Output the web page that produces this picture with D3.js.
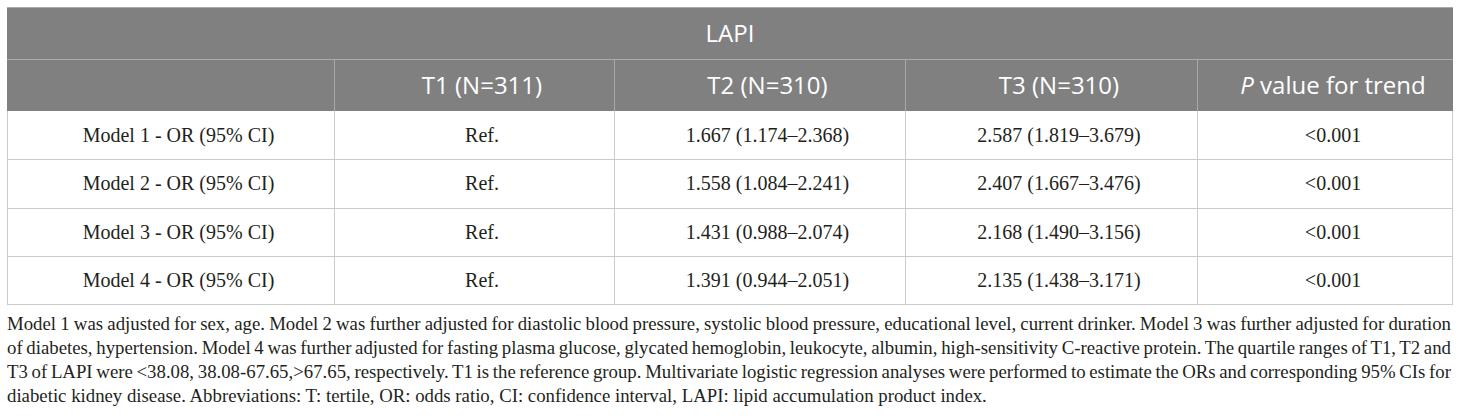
<!DOCTYPE html>
<html>
<head>
<meta charset="utf-8">
<script src="https://cdn.jsdelivr.net/npm/d3@7"></script>
<style>
  html, body { margin: 0; padding: 0; background: #fff; }
  svg { display: block; }
</style>
</head>
<body>
<svg id="chart" width="1460" height="416"></svg>
<script>
// ---------- data ----------
const groupTitle = "LAPI";
const columnHeaders = ["", "T1 (N=311)", "T2 (N=310)", "T3 (N=310)", "P value for trend"];
const rowLabels = ["Model 1 - OR (95% CI)", "Model 2 - OR (95% CI)", "Model 3 - OR (95% CI)", "Model 4 - OR (95% CI)"];
const t1Values = ["Ref.", "Ref.", "Ref.", "Ref."];
const t2Values = ["1.667 (1.174\u20132.368)", "1.558 (1.084\u20132.241)", "1.431 (0.988\u20132.074)", "1.391 (0.944\u20132.051)"];
const t3Values = ["2.587 (1.819\u20133.679)", "2.407 (1.667\u20133.476)", "2.168 (1.490\u20133.156)", "2.135 (1.438\u20133.171)"];
const pValues = ["<0.001", "<0.001", "<0.001", "<0.001"];
const footnoteLines = [
  "Model 1 was adjusted for sex, age. Model 2 was further adjusted for diastolic blood pressure, systolic blood pressure, educational level, current drinker. Model 3 was further adjusted for duration",
  "of diabetes, hypertension. Model 4 was further adjusted for fasting plasma glucose, glycated hemoglobin, leukocyte, albumin, high-sensitivity C-reactive protein. The quartile ranges of T1, T2 and",
  "T3 of LAPI were <38.08, 38.08-67.65,>67.65, respectively. T1 is the reference group. Multivariate logistic regression analyses were performed to estimate the ORs and corresponding 95% CIs for",
  "diabetic kidney disease. Abbreviations: T: tertile, OR: odds ratio, CI: confidence interval, LAPI: lipid accumulation product index."
];

// ---------- layout ----------
const svg = d3.select("#chart");
const left = 7, right = 1453;
const colWeights = [327, 280, 291, 292, 256];
const cum = [0]; colWeights.forEach(w => cum.push(cum[cum.length - 1] + w));
const xCol = d3.scaleLinear().domain([0, cum[cum.length - 1]]).range([left, right]);
const colEdge = i => xCol(cum[i]);
const colMid = i => (colEdge(i) + colEdge(i + 1)) / 2;

const head1Top = 7, head1Bot = 59, head2Bot = 111, tableBot = 304;
const yRow = d3.scaleBand().domain(rowLabels).range([head2Bot, tableBot]);

const headFill = "#808080", headLine = "#a9a9a9", gridLine = "#cbcbcb", ink = "#231f20";
const sans = "'Open Sans', 'Noto Sans', sans-serif";
const serif = "'Liberation Serif', 'DejaVu Serif', serif";
const textShift = 8;

// header background
svg.append("rect").attr("x", left).attr("y", head1Top)
  .attr("width", right - left).attr("height", head2Bot - head1Top)
  .attr("fill", headFill);
svg.append("line").attr("x1", left).attr("x2", right).attr("y1", head1Top + 0.5).attr("y2", head1Top + 0.5)
  .attr("stroke", headLine);
svg.append("line").attr("x1", left).attr("x2", right).attr("y1", head1Bot + 0.5).attr("y2", head1Bot + 0.5)
  .attr("stroke", headLine);
d3.range(1, 5).forEach(i => {
  svg.append("line").attr("x1", Math.round(colEdge(i)) + 0.5).attr("x2", Math.round(colEdge(i)) + 0.5)
    .attr("y1", head1Bot).attr("y2", head2Bot).attr("stroke", headLine);
});

// header text
svg.append("text").attr("x", (left + right) / 2).attr("y", 42)
  .attr("text-anchor", "middle").attr("fill", "#fff")
  .attr("font-family", sans).attr("font-size", 24).text(groupTitle);

columnHeaders.forEach((h, i) => {
  if (!h) return;
  const t = svg.append("text").attr("x", colMid(i) + textShift).attr("y", 94)
    .attr("text-anchor", "middle").attr("fill", "#fff")
    .attr("font-family", sans).attr("font-size", 24);
  if (h.startsWith("P ")) {
    t.append("tspan").attr("font-style", "italic").text("P");
    t.append("tspan").text(h.slice(1));
  } else t.text(h);
});

// body grid
rowLabels.forEach(r => {
  const yb = Math.round(yRow(r) + yRow.bandwidth()) + 0.5;
  svg.append("line").attr("x1", left).attr("x2", right).attr("y1", yb).attr("y2", yb).attr("stroke", gridLine);
});
[0, 1, 2, 3, 4, 5].forEach(i => {
  const x = Math.round(colEdge(i)) + (i === 5 ? -0.5 : 0.5);
  svg.append("line").attr("x1", x).attr("x2", x).attr("y1", head2Bot).attr("y2", tableBot + 1).attr("stroke", gridLine);
});

// body text
const columns = [rowLabels, t1Values, t2Values, t3Values, pValues];
columns.forEach((vals, ci) => {
  svg.append("g").selectAll("text").data(vals).join("text")
    .attr("x", colMid(ci) + textShift)
    .attr("y", (d, ri) => yRow(rowLabels[ri]) + yRow.bandwidth() / 2 + 7)
    .attr("text-anchor", "middle").attr("fill", ink)
    .attr("font-family", serif).attr("font-size", 20)
    .text(d => d);
});

// footnote (justified lines)
const fnTop = 330, fnLH = 24;
footnoteLines.forEach((line, i) => {
  const t = svg.append("text").attr("x", left).attr("y", fnTop + i * fnLH)
    .attr("fill", ink).attr("font-family", serif).attr("font-size", 18.8)
    .text(line);
  if (i < footnoteLines.length - 1) {
    const w = t.node().getComputedTextLength();
    const spaces = (line.match(/ /g) || []).length;
    const target = right - 2 - left;
    t.attr("word-spacing", (target - w) / spaces);
  }
});
</script>
</body>
</html>
